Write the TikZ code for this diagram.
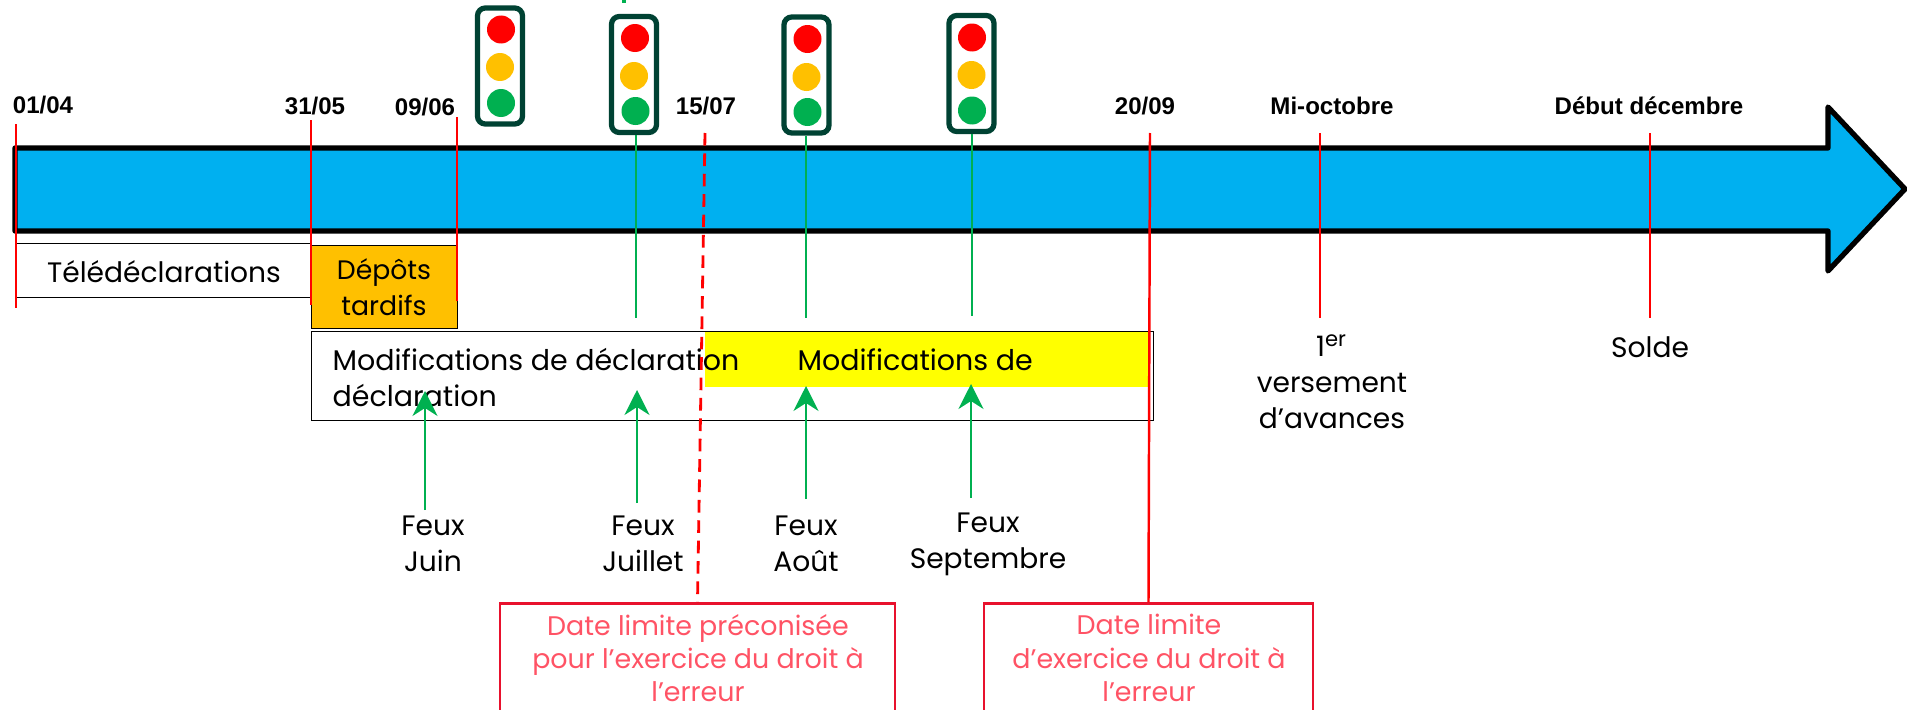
\documentclass[tikz,border=0pt]{standalone}
\usepackage{fontspec}
\setmainfont{Poppins}
\newfontfamily\datefont{Liberation Sans}
\usetikzlibrary{arrows.meta, positioning}
\definecolor{barblue}{HTML}{00B0F0}
\definecolor{lategold}{HTML}{FFC000}
\definecolor{lampgreen}{HTML}{00B050}
\definecolor{lampred}{HTML}{FF0000}
\definecolor{periodyellow}{HTML}{FFFF00}
\definecolor{casedark}{HTML}{004233}
\definecolor{limitred}{HTML}{E8112D}
\definecolor{limitpink}{HTML}{FF5365}
\tikzstyle{date} = [inner sep=0pt, font=\datefont\bfseries\fontsize{6.85}{8}\selectfont]
\tikzstyle{label} = [inner sep=0pt, align=center, font=\fontsize{8}{10.2}\selectfont]
\tikzstyle{period} = [draw=black, line width=0.35pt, anchor=north west, inner sep=0pt]
\tikzstyle{limit} = [draw=limitred, line width=0.8pt, anchor=north, inner sep=0pt]
\tikzstyle{limittext} = [inner sep=0pt, align=center, text=limitpink, font=\fontsize{7.65}{9.5}\selectfont]
\tikzstyle{case} = [draw=casedark, line width=1.5pt, rounded corners=2.2pt, fill=white, minimum width=0.45cm, minimum height=1.16cm, inner sep=0pt]
\tikzstyle{lamp} = [circle, minimum size=0.28cm, inner sep=0pt]
\tikzstyle{tick} = [lampred, line width=0.7pt]
\tikzstyle{dashtick} = [lampred, line width=0.8pt, dash pattern=on 3.6pt off 2.2pt]
\tikzstyle{feu} = [lampgreen, line width=0.5pt]
\tikzstyle{feuarrow} = [lampgreen, line width=0.5pt, -{Stealth[length=0.25cm, width=0.25cm, inset=0.08cm]}]

\begin{document}
\begin{tikzpicture}[yscale=-1]
\useasboundingbox (0,0) rectangle (19.07,7.10);
\clip (0,0) rectangle (19.07,7.10);

% time bar
\draw[black, fill=barblue, line width=1.5pt, line join=round]
  (0.15,1.48) -- (18.28,1.48) -- (18.28,1.07) -- (19.05,1.89) -- (18.28,2.71) -- (18.28,2.31) -- (0.15,2.31) -- cycle;

% periods
\node[period, minimum width=2.95cm, minimum height=0.54cm] (teledecl) at (0.16,2.43) {};
\node[period, minimum width=8.42cm, minimum height=0.89cm] (modif) at (3.11,3.31) {};
\fill[periodyellow] (7.05,3.32) rectangle (11.50,3.87);
\node[period, fill=lategold, minimum width=1.46cm, minimum height=0.83cm] (depots) at (3.11,2.45) {};

\node[label] (teledecltext) at (1.64,2.72) {Télédéclarations};
\node[label, font=\fontsize{7.6}{10.2}\selectfont] (depotstext) at (3.84,2.87) {Dépôts\\tardifs};
\node[label, align=left, anchor=north west, font=\fontsize{8.1}{10.2}\selectfont] (modiftext) at (3.32,3.48) {Modifications de déclaration\\déclaration};
\node[label, anchor=north west, font=\fontsize{8.1}{10.2}\selectfont] (modiftexttwo) at (7.97,3.48) {Modifications de};

% dates
\node[date] (d1) at (0.43,1.05) {01/04};
\node[date] (d2) at (3.15,1.06) {31/05};
\node[date] (d3) at (4.25,1.07) {09/06};
\node[date] (d4) at (7.06,1.06) {15/07};
\node[date] (d5) at (11.45,1.06) {20/09};
\node[date] (d6) at (13.32,1.06) {Mi-octobre};
\node[date] (d7) at (16.49,1.06) {Début décembre};

% traffic lights
\node[case] (light1) at (5.00,0.66) {};
\node[lamp, fill=lampred] (light1r) at (5.01,0.295) {};
\node[lamp, fill=lategold] (light1o) at (5.00,0.67) {};
\node[lamp, fill=lampgreen] (light1g) at (5.01,1.03) {};

\node[case] (light2) at (6.34,0.745) {};
\node[lamp, fill=lampred] (light2r) at (6.35,0.38) {};
\node[lamp, fill=lategold] (light2o) at (6.34,0.76) {};
\node[lamp, fill=lampgreen] (light2g) at (6.355,1.11) {};

\node[case] (light3) at (8.065,0.75) {};
\node[lamp, fill=lampred] (light3r) at (8.075,0.39) {};
\node[lamp, fill=lategold] (light3o) at (8.065,0.77) {};
\node[lamp, fill=lampgreen] (light3g) at (8.075,1.12) {};

\node[case] (light4) at (9.715,0.735) {};
\node[lamp, fill=lampred] (light4r) at (9.72,0.375) {};
\node[lamp, fill=lategold] (light4o) at (9.715,0.75) {};
\node[lamp, fill=lampgreen] (light4g) at (9.72,1.105) {};

\fill[lampgreen] (6.22,0) rectangle (6.26,0.03);

% feux labels
\node[label] (juin) at (4.33,5.435) {Feux\\Juin};
\node[label] (juillet) at (6.43,5.435) {Feux\\Juillet};
\node[label] (aout) at (8.06,5.435) {Feux\\Août};
\node[label] (septembre) at (9.88,5.44) {Feux\\Septembre};

% lower texts
\node[label] (avances) at (13.32,3.82) {1\textsuperscript{er}\\versement\\d’avances};
\node[label] (solde) at (16.50,3.47) {Solde};

% limit boxes
\node[limit, minimum width=3.95cm, minimum height=1.4cm] (limit1) at (6.975,6.02) {};
\node[limit, minimum width=3.29cm, minimum height=1.4cm] (limit2) at (11.485,6.02) {};
\node[limittext] (limit1text) at (6.98,6.58) {Date limite préconisée\\pour l’exercice du droit à\\l’erreur};
\node[limittext] (limit2text) at (11.49,6.58) {Date limite\\d’exercice du droit à\\l’erreur};

% ticks
\coordinate (t1a) at (0.16,1.24);
\coordinate (t1b) at (0.16,3.08);
\coordinate (t2a) at (3.11,1.20);
\coordinate (t2b) at (3.11,3.05);
\coordinate (t3a) at (4.57,1.17);
\coordinate (t3b) at (4.57,3.01);
\coordinate (t4a) at (7.05,1.33);
\coordinate (t5a) at (11.50,1.33);
\coordinate (t6a) at (13.20,1.33);
\coordinate (t6b) at (13.20,3.18);
\coordinate (t7a) at (16.50,1.33);
\coordinate (t7b) at (16.50,3.18);

\draw[tick] (t1a) -- (t1b);
\draw[tick] (t2a) -- (t2b);
\draw[tick] (t3a) -- (t3b);
\draw[dashtick] (t4a) -- (limit1.north);
\draw[tick] (t5a) -- (limit2.north);
\draw[tick] (t6a) -- (t6b);
\draw[tick] (t7a) -- (t7b);

% green links
\coordinate (g2) at (6.36,3.18);
\coordinate (g3) at (8.06,3.18);
\coordinate (g4) at (9.72,3.16);
\draw[feu] (light2.south -| g2) -- (g2);
\draw[feu] (light3.south -| g3) -- (g3);
\draw[feu] (light4.south -| g4) -- (g4);

\coordinate (a1) at (4.25,3.91);
\coordinate (a2) at (6.37,3.90);
\coordinate (a3) at (8.06,3.86);
\coordinate (a4) at (9.71,3.84);
\coordinate (b1) at (4.25,5.10);
\coordinate (b2) at (6.37,5.03);
\coordinate (b3) at (8.06,4.99);
\coordinate (b4) at (9.71,4.98);
\draw[feuarrow] (b1) -- (a1);
\draw[feuarrow] (b2) -- (a2);
\draw[feuarrow] (b3) -- (a3);
\draw[feuarrow] (b4) -- (a4);

\end{tikzpicture}
\end{document}
